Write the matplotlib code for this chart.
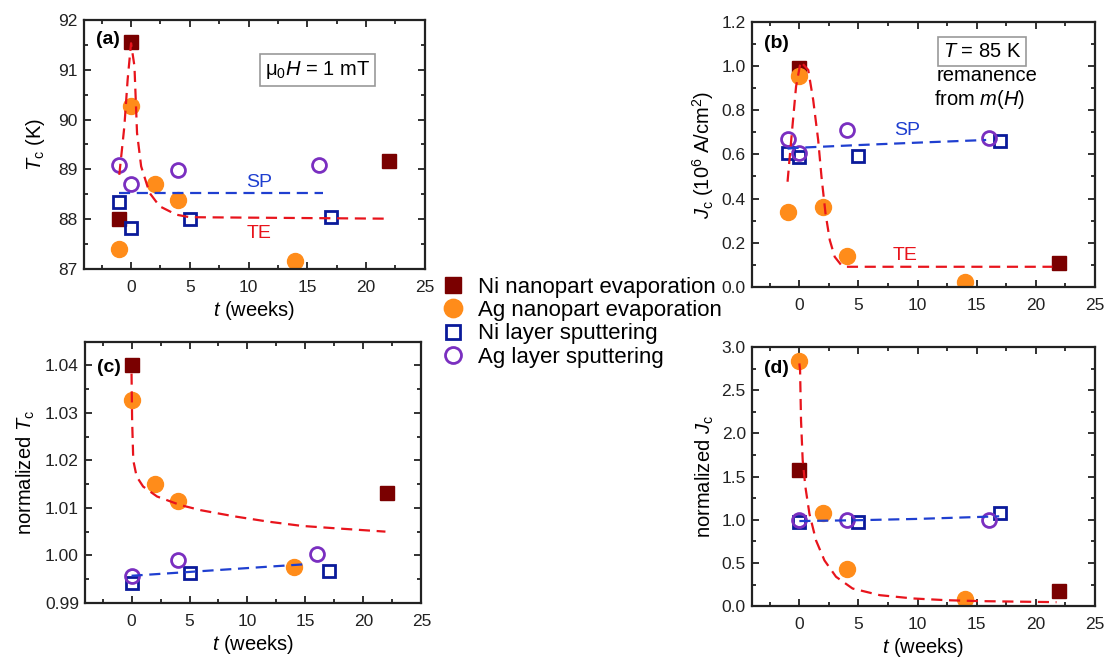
import numpy as np
import matplotlib.pyplot as plt
from matplotlib.ticker import MultipleLocator

plt.rcParams['font.family'] = ['Liberation Sans', 'DejaVu Sans']
plt.rcParams['mathtext.fontset'] = 'custom'
plt.rcParams['mathtext.rm'] = 'Liberation Sans'
plt.rcParams['mathtext.it'] = 'Liberation Sans:italic'
plt.rcParams['mathtext.bf'] = 'Liberation Sans:bold'

# ---- data ----
# (a) Tc in K
a_ni_np_t = [-1, 0, 22]
a_ni_np_y = [88.0, 91.55, 89.17]
a_ag_np_t = [-1, 0, 2, 4, 14]
a_ag_np_y = [87.4, 90.27, 88.71, 88.39, 87.17]
a_ni_sp_t = [-1, 0, 5, 17]
a_ni_sp_y = [88.34, 87.82, 88.0, 88.04]
a_ag_sp_t = [-1, 0, 4, 16]
a_ag_sp_y = [89.09, 88.70, 88.99, 89.09]
a_te_t = [-1, -0.57, -0.29, 0, 0.29, 0.51, 0.86, 1.57, 2.43, 3.86, 5, 22]
a_te_y = [88.89, 89.86, 90.8, 91.53, 91.07, 89.73, 89.06, 88.53, 88.26, 88.09, 88.04, 88.01]
a_sp_t = [-1, 16.3]
a_sp_y = [88.52, 88.52]

# (b) Jc in 10^6 A/cm^2
b_ni_np_t = [0, 22]
b_ni_np_y = [0.993, 0.110]
b_ag_np_t = [-1, 0, 2, 4, 14]
b_ag_np_y = [0.337, 0.955, 0.361, 0.142, 0.022]
b_ni_sp_t = [-1, 0, 5, 17]
b_ni_sp_y = [0.608, 0.589, 0.594, 0.662]
b_ag_sp_t = [-1, 0, 4, 16]
b_ag_sp_y = [0.671, 0.605, 0.710, 0.675]
b_te_t = [-1, -0.64, -0.28, 0.11, 0.75, 1.17, 1.59, 1.87, 2.21, 2.57, 2.99, 3.55, 3.97, 21.4]
b_te_y = [0.476, 0.695, 0.907, 1.02, 0.982, 0.846, 0.665, 0.499, 0.333, 0.212, 0.136, 0.098, 0.091, 0.091]
b_sp_t = [-1, 0, 5, 10, 15.8]
b_sp_y = [0.626, 0.630, 0.642, 0.653, 0.665]

# (c) normalized Tc
c_ni_np_t = [0, 22]
c_ni_np_y = [1.0401, 1.0131]
c_ag_np_t = [0, 2, 4, 14]
c_ag_np_y = [1.0328, 1.0151, 1.0115, 0.9975]
c_ni_sp_t = [0, 5, 17]
c_ni_sp_y = [0.9942, 0.9963, 0.9968]
c_ag_sp_t = [0, 4, 16]
c_ag_sp_y = [0.9956, 0.9991, 1.0003]
c_te_t = [0, 0.05, 0.15, 0.44, 1.0, 2.2, 4.2, 6.0, 8.9, 11.8, 14.7, 17.6, 21.9]
c_te_y = [1.0383, 1.0285, 1.0200, 1.0166, 1.0145, 1.0124, 1.0106, 1.0095, 1.0082,
          1.0071, 1.0062, 1.0057, 1.0050]
c_sp_t = [0, 14.8]
c_sp_y = [0.9957, 0.9981]

# (d) normalized Jc
d_ni_np_t = [0, 22]
d_ni_np_y = [1.58, 0.177]
d_ag_np_t = [0, 2, 4, 14]
d_ag_np_y = [2.84, 1.08, 0.43, 0.077]
d_ni_sp_t = [0, 5, 17]
d_ni_sp_y = [0.976, 0.976, 1.08]
d_ag_sp_t = [0, 4, 16]
d_ag_sp_y = [0.995, 0.995, 0.995]
d_te_t = [0, 0.06, 0.14, 0.28, 0.51, 0.85, 1.41, 2.12, 3.1, 4.5, 6.8, 9.6, 12.4, 15.3, 21.75]
d_te_y = [2.81, 2.73, 2.15, 1.69, 1.38, 1.07, 0.76, 0.53, 0.34, 0.204, 0.127, 0.089,
          0.069, 0.058, 0.046]
d_sp_t = [0, 5, 10, 16.9]
d_sp_y = [0.985, 0.995, 1.01, 1.04]

labels = ['Ni nanopart evaporation', 'Ag nanopart evaporation',
          'Ni layer sputtering', 'Ag layer sputtering']

maroon = '#7a0000'
orange = '#ff8c1a'
navy = '#0a1a9a'
purple = '#7a2fc0'
red = '#e8141c'
blue = '#1f3fd0'


def panel(ax, pts, te, sp, ylim, ymaj, ymin, letter, letter_y):
    (t1, y1), (t2, y2), (t3, y3), (t4, y4) = pts
    h1, = ax.plot(t1, y1, ls='none', marker='s', ms=10, color=maroon, zorder=2)
    h2, = ax.plot(t2, y2, ls='none', marker='o', ms=11.5, color=orange, zorder=2)
    h3, = ax.plot(t3, y3, ls='none', marker='s', ms=9, mfc='none', mec=navy, mew=2, zorder=2)
    h4, = ax.plot(t4, y4, ls='none', marker='o', ms=10, mfc='none', mec=purple, mew=2, zorder=2)
    ax.plot(te[0], te[1], ls=(0, (5, 3)), color=red, lw=1.6, zorder=3)
    ax.plot(sp[0], sp[1], ls=(0, (5, 3)), color=blue, lw=1.6, zorder=3)
    ax.set_xlim(-4, 25)
    ax.set_ylim(*ylim)
    ax.xaxis.set_major_locator(MultipleLocator(5))
    ax.xaxis.set_minor_locator(MultipleLocator(2.5))
    ax.yaxis.set_major_locator(MultipleLocator(ymaj))
    ax.yaxis.set_minor_locator(MultipleLocator(ymin))
    ax.tick_params(which='both', direction='in', top=True, right=True, labelsize=12.5,
                   width=1.3, colors='#222222')
    ax.tick_params(which='major', length=5)
    ax.tick_params(which='minor', length=3)
    ax.tick_params(axis='x', pad=8)
    ax.tick_params(axis='y', pad=4.5)
    for s in ax.spines.values():
        s.set_linewidth(1.6)
        s.set_color('#222222')
    ax.text(0.035, letter_y, letter, transform=ax.transAxes, fontsize=14,
            fontweight='bold', va='center')
    return [h1, h2, h3, h4]


fig = plt.figure(figsize=(11.06, 6.61), dpi=100)
ax1 = fig.add_axes([0.076, 0.593, 0.308, 0.377])
ax2 = fig.add_axes([0.680, 0.566, 0.310, 0.401])
ax3 = fig.add_axes([0.077, 0.088, 0.304, 0.395])
ax4 = fig.add_axes([0.680, 0.083, 0.310, 0.392])

handles = panel(ax1, [(a_ni_np_t, a_ni_np_y), (a_ag_np_t, a_ag_np_y),
                      (a_ni_sp_t, a_ni_sp_y), (a_ag_sp_t, a_ag_sp_y)],
                (a_te_t, a_te_y), (a_sp_t, a_sp_y), (87, 92), 1, 0.5, '(a)', 0.92)
panel(ax2, [(b_ni_np_t, b_ni_np_y), (b_ag_np_t, b_ag_np_y),
            (b_ni_sp_t, b_ni_sp_y), (b_ag_sp_t, b_ag_sp_y)],
      (b_te_t, b_te_y), (b_sp_t, b_sp_y), (0, 1.2), 0.2, 0.1, '(b)', 0.92)
panel(ax3, [(c_ni_np_t, c_ni_np_y), (c_ag_np_t, c_ag_np_y),
            (c_ni_sp_t, c_ni_sp_y), (c_ag_sp_t, c_ag_sp_y)],
      (c_te_t, c_te_y), (c_sp_t, c_sp_y), (0.99, 1.045), 0.01, 0.005, '(c)', 0.90)
panel(ax4, [(d_ni_np_t, d_ni_np_y), (d_ag_np_t, d_ag_np_y),
            (d_ni_sp_t, d_ni_sp_y), (d_ag_sp_t, d_ag_sp_y)],
      (d_te_t, d_te_y), (d_sp_t, d_sp_y), (0, 3.0), 0.5, 0.25, '(d)', 0.916)

ax3.yaxis.set_major_formatter(plt.FormatStrFormatter('%.2f'))
ax2.yaxis.set_major_formatter(plt.FormatStrFormatter('%.1f'))
ax4.yaxis.set_major_formatter(plt.FormatStrFormatter('%.1f'))

lab = dict(fontsize=14.5)
ax1.set_ylabel(r'$T_\mathrm{c}$ (K)', labelpad=8, **lab)
ax1.set_xlabel(r'$t$ (weeks)', labelpad=3, **lab)
ax2.set_ylabel(r'$J_\mathrm{c}$ (10$^6$ A/cm$^2$)', **lab)
ax3.set_ylabel(r'normalized $T_\mathrm{c}$', labelpad=6, **lab)
ax3.set_xlabel(r'$t$ (weeks)', labelpad=3, **lab)
ax4.set_ylabel(r'normalized $J_\mathrm{c}$', **lab)
ax4.set_xlabel(r'$t$ (weeks)', labelpad=3, **lab)

ax1.text(10.9, 88.73, 'SP', color=blue, fontsize=14, ha='center', va='center')
ax1.text(10.9, 87.71, 'TE', color=red, fontsize=14, ha='center', va='center')
ax2.text(9.1, 0.707, 'SP', color=blue, fontsize=14, ha='center', va='center')
ax2.text(8.9, 0.144, 'TE', color=red, fontsize=14, ha='center', va='center')

box = dict(boxstyle='square,pad=0.25', fc='white', ec='#999999', lw=1.2)
ax1.text(0.685, 0.797, 'μ$_0H$ = 1 mT', transform=ax1.transAxes, fontsize=14.5,
         ha='center', va='center', bbox=box)
ax2.text(0.67, 0.888, '$T$ = 85 K', transform=ax2.transAxes, fontsize=14.5,
         ha='center', va='center', bbox=box)
ax2.text(0.684, 0.797, 'remanence', transform=ax2.transAxes, fontsize=14.5,
         ha='center', va='center')
ax2.text(0.664, 0.706, 'from $m$($H$)', transform=ax2.transAxes, fontsize=14.5,
         ha='center', va='center')

fig.legend(handles, labels, loc='upper left', bbox_to_anchor=(0.3996, 0.581),
           frameon=False, fontsize=16, handlelength=1.0, handletextpad=0.6,
           labelspacing=0.1, borderpad=0, borderaxespad=0, markerscale=1.15)

fig.savefig('out.png', dpi=100)
